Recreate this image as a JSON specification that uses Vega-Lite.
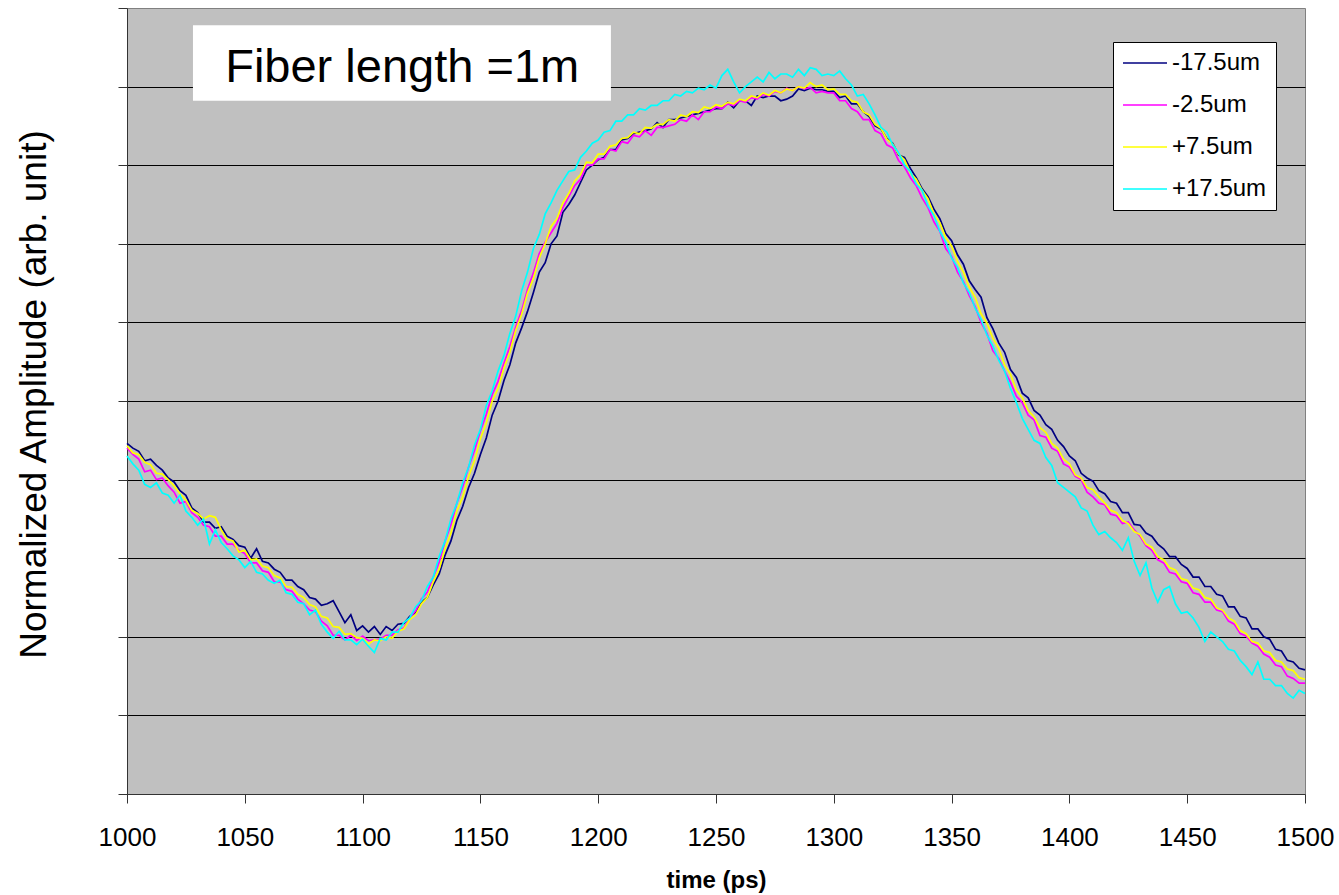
{
"$schema": "https://vega.github.io/schema/vega-lite/v6.json",
"width": 1178, "height": 786,
"autosize": {"type": "none"},
"padding": {"left": 127, "top": 8, "right": 34, "bottom": 101},
"background": "white",
"config": {"view": {"fill": "#C0C0C0", "stroke": "#808080", "strokeWidth": 1}, "font": "Liberation Sans"},
"datasets": {
"navy": [{"t":1000,"v":4.46},{"t":1002.5,"v":4.4},{"t":1005,"v":4.36},{"t":1007.5,"v":4.24},{"t":1010,"v":4.26},{"t":1012.5,"v":4.18},{"t":1015,"v":4.12},{"t":1017.5,"v":4.02},{"t":1020,"v":3.97},{"t":1022.5,"v":3.86},{"t":1025,"v":3.8},{"t":1027.5,"v":3.64},{"t":1030,"v":3.58},{"t":1032.5,"v":3.46},{"t":1035,"v":3.46},{"t":1037.5,"v":3.38},{"t":1040,"v":3.4},{"t":1042.5,"v":3.28},{"t":1045,"v":3.24},{"t":1047.5,"v":3.16},{"t":1050,"v":3.14},{"t":1052.5,"v":3.0},{"t":1055,"v":3.12},{"t":1057.5,"v":2.96},{"t":1060,"v":2.94},{"t":1062.5,"v":2.86},{"t":1065,"v":2.82},{"t":1067.5,"v":2.72},{"t":1070,"v":2.72},{"t":1072.5,"v":2.64},{"t":1075,"v":2.6},{"t":1077.5,"v":2.5},{"t":1080,"v":2.48},{"t":1082.5,"v":2.4},{"t":1085,"v":2.42},{"t":1087.5,"v":2.46},{"t":1090,"v":2.32},{"t":1092.5,"v":2.18},{"t":1095,"v":2.28},{"t":1097.5,"v":2.08},{"t":1100,"v":2.14},{"t":1102.5,"v":2.06},{"t":1105,"v":2.13},{"t":1107.5,"v":2.03},{"t":1110,"v":2.13},{"t":1112.5,"v":2.08},{"t":1115,"v":2.16},{"t":1117.5,"v":2.17},{"t":1120,"v":2.26},{"t":1122.5,"v":2.31},{"t":1125,"v":2.44},{"t":1127.5,"v":2.5},{"t":1130,"v":2.66},{"t":1132.5,"v":2.8},{"t":1135,"v":3.04},{"t":1137.5,"v":3.22},{"t":1140,"v":3.48},{"t":1142.5,"v":3.66},{"t":1145,"v":3.9},{"t":1147.5,"v":4.08},{"t":1150,"v":4.32},{"t":1152.5,"v":4.53},{"t":1155,"v":4.82},{"t":1157.5,"v":5.0},{"t":1160,"v":5.26},{"t":1162.5,"v":5.46},{"t":1165,"v":5.74},{"t":1167.5,"v":5.93},{"t":1170,"v":6.14},{"t":1172.5,"v":6.38},{"t":1175,"v":6.64},{"t":1177.5,"v":6.76},{"t":1180,"v":7.0},{"t":1182.5,"v":7.1},{"t":1185,"v":7.4},{"t":1187.5,"v":7.5},{"t":1190,"v":7.62},{"t":1192.5,"v":7.78},{"t":1195,"v":7.94},{"t":1197.5,"v":8.0},{"t":1200,"v":8.07},{"t":1202.5,"v":8.1},{"t":1205,"v":8.2},{"t":1207.5,"v":8.2},{"t":1210,"v":8.32},{"t":1212.5,"v":8.34},{"t":1215,"v":8.4},{"t":1217.5,"v":8.42},{"t":1220,"v":8.44},{"t":1222.5,"v":8.46},{"t":1225,"v":8.54},{"t":1227.5,"v":8.48},{"t":1230,"v":8.58},{"t":1232.5,"v":8.58},{"t":1235,"v":8.6},{"t":1237.5,"v":8.62},{"t":1240,"v":8.64},{"t":1242.5,"v":8.66},{"t":1245,"v":8.68},{"t":1247.5,"v":8.7},{"t":1250,"v":8.72},{"t":1252.5,"v":8.72},{"t":1255,"v":8.8},{"t":1257.5,"v":8.73},{"t":1260,"v":8.82},{"t":1262.5,"v":8.82},{"t":1265,"v":8.76},{"t":1267.5,"v":8.88},{"t":1270,"v":8.86},{"t":1272.5,"v":8.88},{"t":1275,"v":8.88},{"t":1277.5,"v":8.82},{"t":1280,"v":8.84},{"t":1282.5,"v":8.88},{"t":1285,"v":8.97},{"t":1287.5,"v":8.95},{"t":1290,"v":8.98},{"t":1292.5,"v":8.96},{"t":1295,"v":8.96},{"t":1297.5,"v":8.94},{"t":1300,"v":8.94},{"t":1302.5,"v":8.86},{"t":1305,"v":8.88},{"t":1307.5,"v":8.78},{"t":1310,"v":8.78},{"t":1312.5,"v":8.68},{"t":1315,"v":8.62},{"t":1317.5,"v":8.5},{"t":1320,"v":8.46},{"t":1322.5,"v":8.34},{"t":1325,"v":8.28},{"t":1327.5,"v":8.13},{"t":1330,"v":8.1},{"t":1332.5,"v":7.96},{"t":1335,"v":7.84},{"t":1337.5,"v":7.7},{"t":1340,"v":7.6},{"t":1342.5,"v":7.44},{"t":1345,"v":7.32},{"t":1347.5,"v":7.13},{"t":1350,"v":7.04},{"t":1352.5,"v":6.86},{"t":1355,"v":6.74},{"t":1357.5,"v":6.53},{"t":1360,"v":6.42},{"t":1362.5,"v":6.32},{"t":1365,"v":6.06},{"t":1367.5,"v":5.92},{"t":1370,"v":5.74},{"t":1372.5,"v":5.62},{"t":1375,"v":5.4},{"t":1377.5,"v":5.3},{"t":1380,"v":5.1},{"t":1382.5,"v":5.04},{"t":1385,"v":4.88},{"t":1387.5,"v":4.82},{"t":1390,"v":4.7},{"t":1392.5,"v":4.64},{"t":1395,"v":4.5},{"t":1397.5,"v":4.42},{"t":1400,"v":4.3},{"t":1402.5,"v":4.24},{"t":1405,"v":4.08},{"t":1407.5,"v":4.02},{"t":1410,"v":3.98},{"t":1412.5,"v":3.86},{"t":1415,"v":3.82},{"t":1417.5,"v":3.72},{"t":1420,"v":3.7},{"t":1422.5,"v":3.58},{"t":1425,"v":3.58},{"t":1427.5,"v":3.43},{"t":1430,"v":3.42},{"t":1432.5,"v":3.32},{"t":1435,"v":3.28},{"t":1437.5,"v":3.18},{"t":1440,"v":3.12},{"t":1442.5,"v":3.02},{"t":1445,"v":3.02},{"t":1447.5,"v":2.92},{"t":1450,"v":2.87},{"t":1452.5,"v":2.76},{"t":1455,"v":2.76},{"t":1457.5,"v":2.64},{"t":1460,"v":2.64},{"t":1462.5,"v":2.54},{"t":1465,"v":2.52},{"t":1467.5,"v":2.38},{"t":1470,"v":2.38},{"t":1472.5,"v":2.26},{"t":1475,"v":2.24},{"t":1477.5,"v":2.1},{"t":1480,"v":2.1},{"t":1482.5,"v":2.0},{"t":1485,"v":1.97},{"t":1487.5,"v":1.84},{"t":1490,"v":1.82},{"t":1492.5,"v":1.7},{"t":1495,"v":1.68},{"t":1497.5,"v":1.6},{"t":1500,"v":1.58}],
"magenta": [{"t":1000,"v":4.4},{"t":1002.5,"v":4.32},{"t":1005,"v":4.26},{"t":1007.5,"v":4.1},{"t":1010,"v":4.12},{"t":1012.5,"v":4.0},{"t":1015,"v":4.02},{"t":1017.5,"v":3.92},{"t":1020,"v":3.84},{"t":1022.5,"v":3.7},{"t":1025,"v":3.72},{"t":1027.5,"v":3.58},{"t":1030,"v":3.52},{"t":1032.5,"v":3.42},{"t":1035,"v":3.4},{"t":1037.5,"v":3.28},{"t":1040,"v":3.28},{"t":1042.5,"v":3.18},{"t":1045,"v":3.18},{"t":1047.5,"v":3.1},{"t":1050,"v":3.06},{"t":1052.5,"v":2.94},{"t":1055,"v":2.94},{"t":1057.5,"v":2.84},{"t":1060,"v":2.82},{"t":1062.5,"v":2.7},{"t":1065,"v":2.7},{"t":1067.5,"v":2.6},{"t":1070,"v":2.58},{"t":1072.5,"v":2.48},{"t":1075,"v":2.42},{"t":1077.5,"v":2.34},{"t":1080,"v":2.32},{"t":1082.5,"v":2.2},{"t":1085,"v":2.14},{"t":1087.5,"v":2.02},{"t":1090,"v":2.02},{"t":1092.5,"v":1.96},{"t":1095,"v":2.02},{"t":1097.5,"v":1.95},{"t":1100,"v":2.01},{"t":1102.5,"v":1.95},{"t":1105,"v":1.96},{"t":1107.5,"v":1.97},{"t":1110,"v":2.02},{"t":1112.5,"v":2.02},{"t":1115,"v":2.09},{"t":1117.5,"v":2.11},{"t":1120,"v":2.24},{"t":1122.5,"v":2.33},{"t":1125,"v":2.48},{"t":1127.5,"v":2.57},{"t":1130,"v":2.76},{"t":1132.5,"v":2.95},{"t":1135,"v":3.22},{"t":1137.5,"v":3.43},{"t":1140,"v":3.7},{"t":1142.5,"v":3.91},{"t":1145,"v":4.16},{"t":1147.5,"v":4.37},{"t":1150,"v":4.62},{"t":1152.5,"v":4.83},{"t":1155,"v":5.08},{"t":1157.5,"v":5.25},{"t":1160,"v":5.48},{"t":1162.5,"v":5.69},{"t":1165,"v":5.94},{"t":1167.5,"v":6.15},{"t":1170,"v":6.42},{"t":1172.5,"v":6.63},{"t":1175,"v":6.88},{"t":1177.5,"v":7.02},{"t":1180,"v":7.14},{"t":1182.5,"v":7.26},{"t":1185,"v":7.46},{"t":1187.5,"v":7.6},{"t":1190,"v":7.74},{"t":1192.5,"v":7.82},{"t":1195,"v":8.0},{"t":1197.5,"v":8.0},{"t":1200,"v":8.08},{"t":1202.5,"v":8.08},{"t":1205,"v":8.2},{"t":1207.5,"v":8.18},{"t":1210,"v":8.3},{"t":1212.5,"v":8.28},{"t":1215,"v":8.38},{"t":1217.5,"v":8.36},{"t":1220,"v":8.44},{"t":1222.5,"v":8.38},{"t":1225,"v":8.48},{"t":1227.5,"v":8.48},{"t":1230,"v":8.5},{"t":1232.5,"v":8.52},{"t":1235,"v":8.58},{"t":1237.5,"v":8.56},{"t":1240,"v":8.64},{"t":1242.5,"v":8.58},{"t":1245,"v":8.68},{"t":1247.5,"v":8.68},{"t":1250,"v":8.74},{"t":1252.5,"v":8.72},{"t":1255,"v":8.78},{"t":1257.5,"v":8.76},{"t":1260,"v":8.82},{"t":1262.5,"v":8.8},{"t":1265,"v":8.86},{"t":1267.5,"v":8.84},{"t":1270,"v":8.9},{"t":1272.5,"v":8.88},{"t":1275,"v":8.94},{"t":1277.5,"v":8.92},{"t":1280,"v":8.98},{"t":1282.5,"v":8.95},{"t":1285,"v":9.0},{"t":1287.5,"v":8.97},{"t":1290,"v":8.99},{"t":1292.5,"v":8.92},{"t":1295,"v":8.94},{"t":1297.5,"v":8.92},{"t":1300,"v":8.92},{"t":1302.5,"v":8.82},{"t":1305,"v":8.82},{"t":1307.5,"v":8.72},{"t":1310,"v":8.68},{"t":1312.5,"v":8.58},{"t":1315,"v":8.58},{"t":1317.5,"v":8.44},{"t":1320,"v":8.4},{"t":1322.5,"v":8.26},{"t":1325,"v":8.22},{"t":1327.5,"v":8.06},{"t":1330,"v":7.98},{"t":1332.5,"v":7.84},{"t":1335,"v":7.74},{"t":1337.5,"v":7.58},{"t":1340,"v":7.46},{"t":1342.5,"v":7.28},{"t":1345,"v":7.16},{"t":1347.5,"v":6.94},{"t":1350,"v":6.84},{"t":1352.5,"v":6.64},{"t":1355,"v":6.52},{"t":1357.5,"v":6.34},{"t":1360,"v":6.2},{"t":1362.5,"v":6.0},{"t":1365,"v":5.86},{"t":1367.5,"v":5.64},{"t":1370,"v":5.54},{"t":1372.5,"v":5.38},{"t":1375,"v":5.24},{"t":1377.5,"v":5.06},{"t":1380,"v":4.98},{"t":1382.5,"v":4.82},{"t":1385,"v":4.76},{"t":1387.5,"v":4.56},{"t":1390,"v":4.54},{"t":1392.5,"v":4.4},{"t":1395,"v":4.36},{"t":1397.5,"v":4.2},{"t":1400,"v":4.16},{"t":1402.5,"v":4.04},{"t":1405,"v":4.0},{"t":1407.5,"v":3.84},{"t":1410,"v":3.78},{"t":1412.5,"v":3.7},{"t":1415,"v":3.68},{"t":1417.5,"v":3.56},{"t":1420,"v":3.54},{"t":1422.5,"v":3.44},{"t":1425,"v":3.46},{"t":1427.5,"v":3.36},{"t":1430,"v":3.28},{"t":1432.5,"v":3.16},{"t":1435,"v":3.1},{"t":1437.5,"v":2.98},{"t":1440,"v":2.94},{"t":1442.5,"v":2.82},{"t":1445,"v":2.8},{"t":1447.5,"v":2.7},{"t":1450,"v":2.68},{"t":1452.5,"v":2.56},{"t":1455,"v":2.54},{"t":1457.5,"v":2.44},{"t":1460,"v":2.44},{"t":1462.5,"v":2.34},{"t":1465,"v":2.32},{"t":1467.5,"v":2.2},{"t":1470,"v":2.16},{"t":1472.5,"v":2.04},{"t":1475,"v":2.01},{"t":1477.5,"v":1.92},{"t":1480,"v":1.88},{"t":1482.5,"v":1.78},{"t":1485,"v":1.74},{"t":1487.5,"v":1.64},{"t":1490,"v":1.62},{"t":1492.5,"v":1.5},{"t":1495,"v":1.47},{"t":1497.5,"v":1.41},{"t":1500,"v":1.41}],
"yellow": [{"t":1000,"v":4.43},{"t":1002.5,"v":4.34},{"t":1005,"v":4.32},{"t":1007.5,"v":4.22},{"t":1010,"v":4.19},{"t":1012.5,"v":4.08},{"t":1015,"v":4.07},{"t":1017.5,"v":4.0},{"t":1020,"v":3.92},{"t":1022.5,"v":3.82},{"t":1025,"v":3.74},{"t":1027.5,"v":3.61},{"t":1030,"v":3.57},{"t":1032.5,"v":3.5},{"t":1035,"v":3.54},{"t":1037.5,"v":3.52},{"t":1040,"v":3.36},{"t":1042.5,"v":3.24},{"t":1045,"v":3.22},{"t":1047.5,"v":3.08},{"t":1050,"v":3.1},{"t":1052.5,"v":2.98},{"t":1055,"v":2.99},{"t":1057.5,"v":2.9},{"t":1060,"v":2.88},{"t":1062.5,"v":2.78},{"t":1065,"v":2.75},{"t":1067.5,"v":2.64},{"t":1070,"v":2.63},{"t":1072.5,"v":2.54},{"t":1075,"v":2.5},{"t":1077.5,"v":2.41},{"t":1080,"v":2.38},{"t":1082.5,"v":2.26},{"t":1085,"v":2.24},{"t":1087.5,"v":2.13},{"t":1090,"v":2.12},{"t":1092.5,"v":2.03},{"t":1095,"v":2.04},{"t":1097.5,"v":1.99},{"t":1100,"v":1.98},{"t":1102.5,"v":1.91},{"t":1105,"v":1.96},{"t":1107.5,"v":1.95},{"t":1110,"v":2.0},{"t":1112.5,"v":1.98},{"t":1115,"v":2.07},{"t":1117.5,"v":2.1},{"t":1120,"v":2.22},{"t":1122.5,"v":2.28},{"t":1125,"v":2.42},{"t":1127.5,"v":2.5},{"t":1130,"v":2.7},{"t":1132.5,"v":2.86},{"t":1135,"v":3.12},{"t":1137.5,"v":3.32},{"t":1140,"v":3.6},{"t":1142.5,"v":3.78},{"t":1145,"v":4.04},{"t":1147.5,"v":4.24},{"t":1150,"v":4.52},{"t":1152.5,"v":4.72},{"t":1155,"v":5.0},{"t":1157.5,"v":5.16},{"t":1160,"v":5.42},{"t":1162.5,"v":5.62},{"t":1165,"v":5.9},{"t":1167.5,"v":6.1},{"t":1170,"v":6.37},{"t":1172.5,"v":6.56},{"t":1175,"v":6.82},{"t":1177.5,"v":7.0},{"t":1180,"v":7.22},{"t":1182.5,"v":7.32},{"t":1185,"v":7.52},{"t":1187.5,"v":7.64},{"t":1190,"v":7.8},{"t":1192.5,"v":7.88},{"t":1195,"v":8.04},{"t":1197.5,"v":8.03},{"t":1200,"v":8.14},{"t":1202.5,"v":8.14},{"t":1205,"v":8.24},{"t":1207.5,"v":8.26},{"t":1210,"v":8.34},{"t":1212.5,"v":8.35},{"t":1215,"v":8.42},{"t":1217.5,"v":8.4},{"t":1220,"v":8.48},{"t":1222.5,"v":8.47},{"t":1225,"v":8.52},{"t":1227.5,"v":8.52},{"t":1230,"v":8.58},{"t":1232.5,"v":8.56},{"t":1235,"v":8.64},{"t":1237.5,"v":8.62},{"t":1240,"v":8.68},{"t":1242.5,"v":8.67},{"t":1245,"v":8.74},{"t":1247.5,"v":8.72},{"t":1250,"v":8.77},{"t":1252.5,"v":8.75},{"t":1255,"v":8.8},{"t":1257.5,"v":8.78},{"t":1260,"v":8.84},{"t":1262.5,"v":8.82},{"t":1265,"v":8.88},{"t":1267.5,"v":8.86},{"t":1270,"v":8.92},{"t":1272.5,"v":8.89},{"t":1275,"v":8.95},{"t":1277.5,"v":8.92},{"t":1280,"v":8.97},{"t":1282.5,"v":8.95},{"t":1285,"v":9.0},{"t":1287.5,"v":8.98},{"t":1290,"v":9.05},{"t":1292.5,"v":9.0},{"t":1295,"v":9.02},{"t":1297.5,"v":8.96},{"t":1300,"v":8.97},{"t":1302.5,"v":8.9},{"t":1305,"v":8.9},{"t":1307.5,"v":8.82},{"t":1310,"v":8.8},{"t":1312.5,"v":8.68},{"t":1315,"v":8.64},{"t":1317.5,"v":8.52},{"t":1320,"v":8.47},{"t":1322.5,"v":8.33},{"t":1325,"v":8.27},{"t":1327.5,"v":8.14},{"t":1330,"v":8.07},{"t":1332.5,"v":7.9},{"t":1335,"v":7.82},{"t":1337.5,"v":7.68},{"t":1340,"v":7.57},{"t":1342.5,"v":7.38},{"t":1345,"v":7.27},{"t":1347.5,"v":7.08},{"t":1350,"v":6.97},{"t":1352.5,"v":6.78},{"t":1355,"v":6.64},{"t":1357.5,"v":6.45},{"t":1360,"v":6.32},{"t":1362.5,"v":6.11},{"t":1365,"v":5.99},{"t":1367.5,"v":5.8},{"t":1370,"v":5.67},{"t":1372.5,"v":5.46},{"t":1375,"v":5.34},{"t":1377.5,"v":5.14},{"t":1380,"v":5.04},{"t":1382.5,"v":4.88},{"t":1385,"v":4.8},{"t":1387.5,"v":4.66},{"t":1390,"v":4.6},{"t":1392.5,"v":4.46},{"t":1395,"v":4.4},{"t":1397.5,"v":4.26},{"t":1400,"v":4.2},{"t":1402.5,"v":4.06},{"t":1405,"v":4.02},{"t":1407.5,"v":3.9},{"t":1410,"v":3.87},{"t":1412.5,"v":3.78},{"t":1415,"v":3.7},{"t":1417.5,"v":3.61},{"t":1420,"v":3.58},{"t":1422.5,"v":3.48},{"t":1425,"v":3.44},{"t":1427.5,"v":3.34},{"t":1430,"v":3.3},{"t":1432.5,"v":3.18},{"t":1435,"v":3.14},{"t":1437.5,"v":3.02},{"t":1440,"v":2.98},{"t":1442.5,"v":2.88},{"t":1445,"v":2.85},{"t":1447.5,"v":2.74},{"t":1450,"v":2.72},{"t":1452.5,"v":2.62},{"t":1455,"v":2.6},{"t":1457.5,"v":2.5},{"t":1460,"v":2.48},{"t":1462.5,"v":2.37},{"t":1465,"v":2.34},{"t":1467.5,"v":2.24},{"t":1470,"v":2.2},{"t":1472.5,"v":2.08},{"t":1475,"v":2.04},{"t":1477.5,"v":1.94},{"t":1480,"v":1.92},{"t":1482.5,"v":1.82},{"t":1485,"v":1.8},{"t":1487.5,"v":1.7},{"t":1490,"v":1.68},{"t":1492.5,"v":1.59},{"t":1495,"v":1.57},{"t":1497.5,"v":1.48},{"t":1500,"v":1.46}],
"cyan": [{"t":1000,"v":4.3},{"t":1002.5,"v":4.2},{"t":1005,"v":4.12},{"t":1007.5,"v":3.94},{"t":1010,"v":3.9},{"t":1012.5,"v":3.96},{"t":1015,"v":3.83},{"t":1017.5,"v":3.8},{"t":1020,"v":3.7},{"t":1022.5,"v":3.8},{"t":1025,"v":3.6},{"t":1027.5,"v":3.52},{"t":1030,"v":3.42},{"t":1032.5,"v":3.5},{"t":1035,"v":3.18},{"t":1037.5,"v":3.36},{"t":1040,"v":3.2},{"t":1042.5,"v":3.12},{"t":1045,"v":3.03},{"t":1047.5,"v":2.98},{"t":1050,"v":2.88},{"t":1052.5,"v":2.96},{"t":1055,"v":2.82},{"t":1057.5,"v":2.8},{"t":1060,"v":2.72},{"t":1062.5,"v":2.68},{"t":1065,"v":2.72},{"t":1067.5,"v":2.56},{"t":1070,"v":2.54},{"t":1072.5,"v":2.44},{"t":1075,"v":2.42},{"t":1077.5,"v":2.28},{"t":1080,"v":2.34},{"t":1082.5,"v":2.16},{"t":1085,"v":2.06},{"t":1087.5,"v":1.98},{"t":1090,"v":2.07},{"t":1092.5,"v":1.96},{"t":1095,"v":1.96},{"t":1097.5,"v":1.9},{"t":1100,"v":1.97},{"t":1102.5,"v":1.88},{"t":1105,"v":1.8},{"t":1107.5,"v":1.98},{"t":1110,"v":1.96},{"t":1112.5,"v":2.06},{"t":1115,"v":2.06},{"t":1117.5,"v":2.18},{"t":1120,"v":2.24},{"t":1122.5,"v":2.38},{"t":1125,"v":2.46},{"t":1127.5,"v":2.64},{"t":1130,"v":2.76},{"t":1132.5,"v":3.02},{"t":1135,"v":3.22},{"t":1137.5,"v":3.5},{"t":1140,"v":3.7},{"t":1142.5,"v":3.96},{"t":1145,"v":4.16},{"t":1147.5,"v":4.44},{"t":1150,"v":4.64},{"t":1152.5,"v":4.94},{"t":1155,"v":5.13},{"t":1157.5,"v":5.38},{"t":1160,"v":5.58},{"t":1162.5,"v":5.86},{"t":1165,"v":6.08},{"t":1167.5,"v":6.4},{"t":1170,"v":6.64},{"t":1172.5,"v":6.94},{"t":1175,"v":7.12},{"t":1177.5,"v":7.38},{"t":1180,"v":7.52},{"t":1182.5,"v":7.68},{"t":1185,"v":7.8},{"t":1187.5,"v":7.92},{"t":1190,"v":7.94},{"t":1192.5,"v":8.1},{"t":1195,"v":8.18},{"t":1197.5,"v":8.28},{"t":1200,"v":8.32},{"t":1202.5,"v":8.42},{"t":1205,"v":8.44},{"t":1207.5,"v":8.56},{"t":1210,"v":8.56},{"t":1212.5,"v":8.64},{"t":1215,"v":8.64},{"t":1217.5,"v":8.72},{"t":1220,"v":8.7},{"t":1222.5,"v":8.76},{"t":1225,"v":8.76},{"t":1227.5,"v":8.82},{"t":1230,"v":8.82},{"t":1232.5,"v":8.9},{"t":1235,"v":8.88},{"t":1237.5,"v":8.94},{"t":1240,"v":8.92},{"t":1242.5,"v":8.98},{"t":1245,"v":8.96},{"t":1247.5,"v":9.02},{"t":1250,"v":8.98},{"t":1252.5,"v":9.14},{"t":1255,"v":9.22},{"t":1257.5,"v":9.06},{"t":1260,"v":8.92},{"t":1262.5,"v":9.0},{"t":1265,"v":9.06},{"t":1267.5,"v":9.12},{"t":1270,"v":9.06},{"t":1272.5,"v":9.18},{"t":1275,"v":9.1},{"t":1277.5,"v":9.16},{"t":1280,"v":9.16},{"t":1282.5,"v":9.12},{"t":1285,"v":9.22},{"t":1287.5,"v":9.14},{"t":1290,"v":9.24},{"t":1292.5,"v":9.22},{"t":1295,"v":9.14},{"t":1297.5,"v":9.16},{"t":1300,"v":9.14},{"t":1302.5,"v":9.2},{"t":1305,"v":9.1},{"t":1307.5,"v":9.02},{"t":1310,"v":8.88},{"t":1312.5,"v":8.9},{"t":1315,"v":8.78},{"t":1317.5,"v":8.64},{"t":1320,"v":8.48},{"t":1322.5,"v":8.42},{"t":1325,"v":8.26},{"t":1327.5,"v":8.16},{"t":1330,"v":8.0},{"t":1332.5,"v":7.92},{"t":1335,"v":7.76},{"t":1337.5,"v":7.68},{"t":1340,"v":7.48},{"t":1342.5,"v":7.36},{"t":1345,"v":7.16},{"t":1347.5,"v":7.02},{"t":1350,"v":6.82},{"t":1352.5,"v":6.7},{"t":1355,"v":6.5},{"t":1357.5,"v":6.38},{"t":1360,"v":6.18},{"t":1362.5,"v":6.04},{"t":1365,"v":5.84},{"t":1367.5,"v":5.7},{"t":1370,"v":5.52},{"t":1372.5,"v":5.38},{"t":1375,"v":5.16},{"t":1377.5,"v":4.98},{"t":1380,"v":4.78},{"t":1382.5,"v":4.64},{"t":1385,"v":4.5},{"t":1387.5,"v":4.46},{"t":1390,"v":4.28},{"t":1392.5,"v":4.18},{"t":1395,"v":3.96},{"t":1397.5,"v":3.9},{"t":1400,"v":3.84},{"t":1402.5,"v":3.78},{"t":1405,"v":3.64},{"t":1407.5,"v":3.6},{"t":1410,"v":3.42},{"t":1412.5,"v":3.3},{"t":1415,"v":3.34},{"t":1417.5,"v":3.26},{"t":1420,"v":3.2},{"t":1422.5,"v":3.1},{"t":1425,"v":3.26},{"t":1427.5,"v":2.96},{"t":1430,"v":2.78},{"t":1432.5,"v":2.94},{"t":1435,"v":2.62},{"t":1437.5,"v":2.44},{"t":1440,"v":2.6},{"t":1442.5,"v":2.64},{"t":1445,"v":2.42},{"t":1447.5,"v":2.3},{"t":1450,"v":2.32},{"t":1452.5,"v":2.24},{"t":1455,"v":2.12},{"t":1457.5,"v":1.94},{"t":1460,"v":2.06},{"t":1462.5,"v":2.0},{"t":1465,"v":1.94},{"t":1467.5,"v":1.84},{"t":1470,"v":1.82},{"t":1472.5,"v":1.7},{"t":1475,"v":1.62},{"t":1477.5,"v":1.52},{"t":1480,"v":1.68},{"t":1482.5,"v":1.46},{"t":1485,"v":1.46},{"t":1487.5,"v":1.38},{"t":1490,"v":1.38},{"t":1492.5,"v":1.28},{"t":1495,"v":1.22},{"t":1497.5,"v":1.32},{"t":1500,"v":1.28}]
},
"layer": [
  {"data": {"name": "navy"}, "mark": {"type": "line", "strokeWidth": 1.7},
   "encoding": {
    "x": {"field": "t", "type": "quantitative", "title": "time (ps)",
      "scale": {"domain": [1000, 1500], "nice": false, "zero": false},
      "axis": {"values": [1000,1050,1100,1150,1200,1250,1300,1350,1400,1450,1500], "format": "d", "grid": false, "tickSize": 9, "tickColor": "#333333", "domainColor": "#333333",
        "labelFont": "Liberation Sans", "labelFontSize": 26, "labelColor": "black", "labelBaseline": "alphabetic", "labelPadding": 42,
        "labelOverlap": false, "labelFlush": false, "labelBound": false,
        "titleFont": "Liberation Sans", "titleFontSize": 24, "titleFontWeight": "bold", "titleColor": "black",
        "titleX": 589, "titleY": 93, "titleBaseline": "alphabetic", "titleAlign": "center"}},
    "y": {"field": "v", "type": "quantitative", "title": "Normalized Amplitude (arb. unit)",
      "scale": {"domain": [0, 10], "nice": false, "zero": false},
      "axis": {"values": [0,1,2,3,4,5,6,7,8,9,10], "labels": false, "tickSize": 9, "tickColor": "#333333", "domainColor": "#333333",
        "grid": true, "gridColor": {"condition": {"test": "datum.value == 0 || datum.value == 10", "value": "transparent"}, "value": "black"}, "gridOpacity": 1, "gridWidth": 1,
        "titleFont": "Liberation Sans", "titleFontSize": 37, "titleFontWeight": "normal", "titleColor": "black",
        "titleAngle": -90, "titleX": -82, "titleY": 386, "titleAlign": "center", "titleBaseline": "alphabetic"}},
    "color": {"datum": "-17.5um", "type": "nominal",
     "scale": {"domain": ["-17.5um", "-2.5um", "+7.5um", "+17.5um"], "range": ["#000080", "#FF00FF", "#FFFF00", "#00FFFF"]},
     "legend": {"orient": "none", "legendX": 986, "legendY": 34, "title": null, "fillColor": "white", "strokeColor": "black", "padding": 9,
       "symbolType": "M-2,0H2", "symbolSize": 484, "symbolOffset": 11, "symbolStrokeWidth": 1.7, "labelFont": "Liberation Sans", "labelFontSize": 24, "labelColor": "black",
       "labelOffset": 15, "rowPadding": 18, "labelLimit": 300}}}},
  {"data": {"name": "magenta"}, "mark": {"type": "line", "strokeWidth": 1.7},
   "encoding": {"x": {"field": "t", "type": "quantitative"}, "y": {"field": "v", "type": "quantitative"}, "color": {"datum": "-2.5um", "type": "nominal"}}},
  {"data": {"name": "yellow"}, "mark": {"type": "line", "strokeWidth": 1.7},
   "encoding": {"x": {"field": "t", "type": "quantitative"}, "y": {"field": "v", "type": "quantitative"}, "color": {"datum": "+7.5um", "type": "nominal"}}},
  {"data": {"name": "cyan"}, "mark": {"type": "line", "strokeWidth": 1.7},
   "encoding": {"x": {"field": "t", "type": "quantitative"}, "y": {"field": "v", "type": "quantitative"}, "color": {"datum": "+17.5um", "type": "nominal"}}},
  {"data": {"values": [{"label": "Fiber length =1m"}]}, "mark": {"type": "rect", "fill": "white"},
   "encoding": {"x": {"datum": 1028, "type": "quantitative"}, "x2": {"datum": 1205.4}, "y": {"datum": 9.78, "type": "quantitative"}, "y2": {"datum": 8.82}}},
  {"data": {"values": [{"label": "Fiber length =1m"}]}, "mark": {"type": "text", "font": "Liberation Sans", "fontSize": 47, "fill": "black", "align": "center", "baseline": "alphabetic"},
   "encoding": {"text": {"field": "label", "type": "nominal"}, "x": {"datum": 1116.8, "type": "quantitative"}, "y": {"datum": 9.06, "type": "quantitative"}}}
]
}
